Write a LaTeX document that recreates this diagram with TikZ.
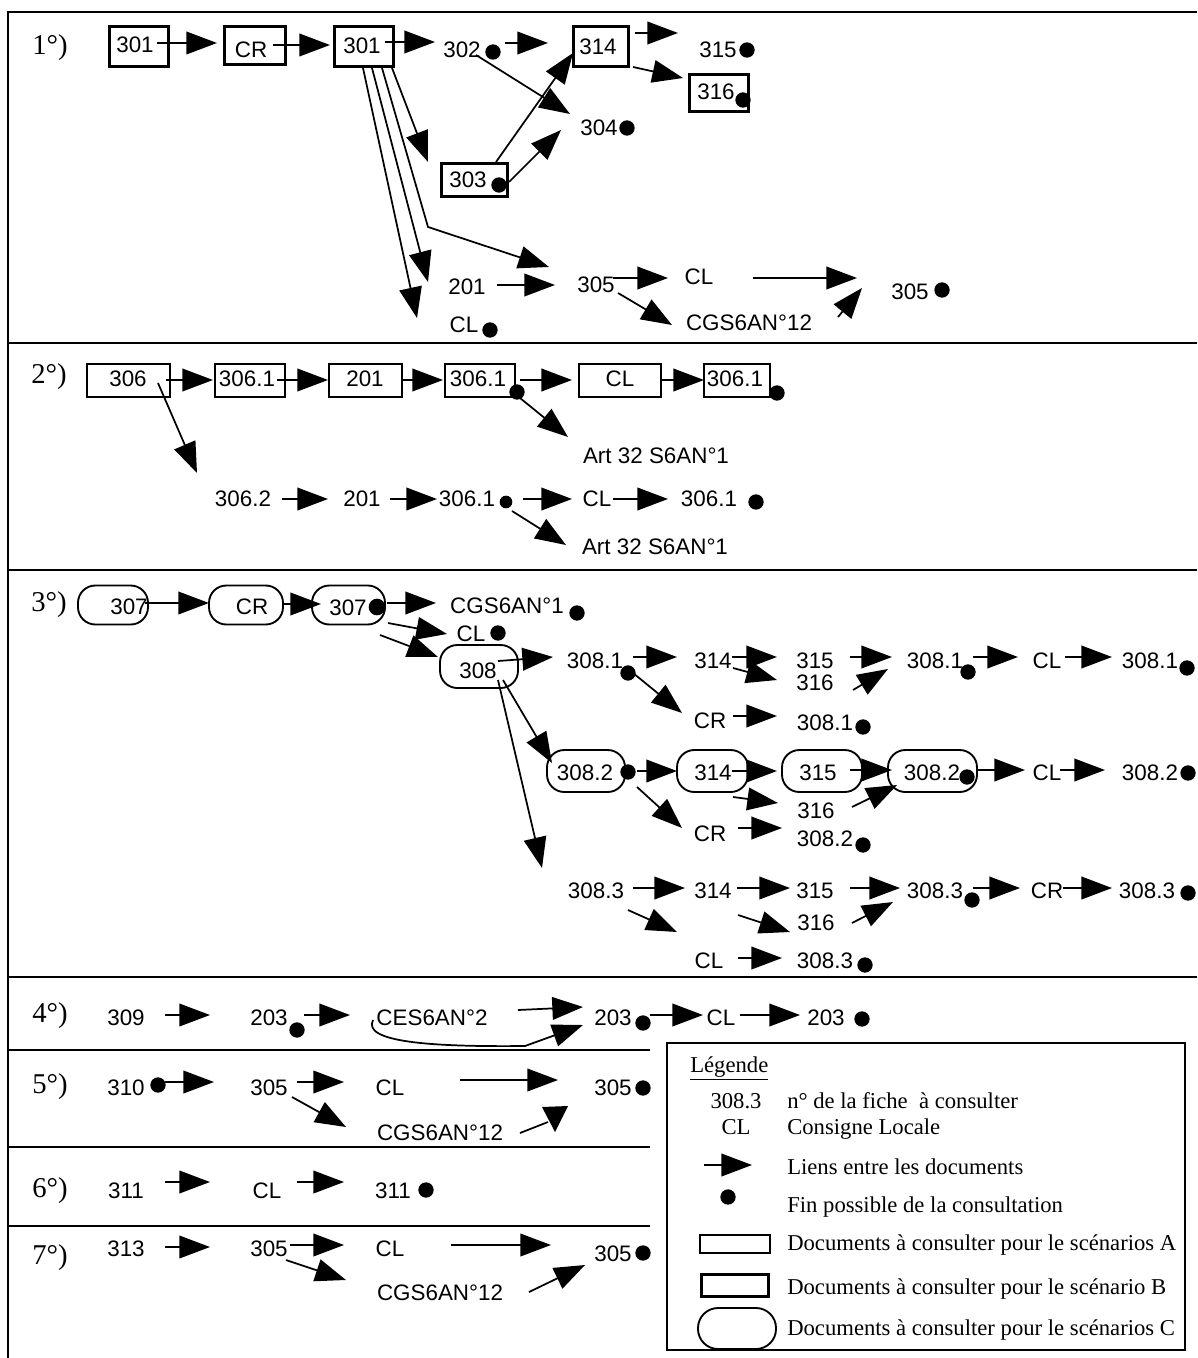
\documentclass[tikz,border=0pt]{standalone}
\usepackage{fontspec}
\setmainfont{Liberation Serif}
\setsansfont{Liberation Sans}
\usetikzlibrary{arrows.meta}
\tikzset{
 lbl/.style={font=\sffamily\fontsize{16.8}{18}\selectfont, inner sep=0pt, text height=12pt, text depth=0pt},
 sec/.style={font=\rmfamily\fontsize{21.5}{24}\selectfont, inner sep=0pt, text height=10.5pt, text depth=0pt},
 leg/.style={font=\rmfamily\fontsize{17}{20}\selectfont, inner sep=0pt, text height=11.3pt, text depth=0pt, anchor=west},
 arr/.style={line width=1.3pt, -{Triangle[length=23pt,width=17pt]}},
 enddot/.style={circle, fill=black, inner sep=0pt, minimum size=11.5pt},
 boxA/.style={draw, line width=1.1pt, inner sep=0pt},
 boxB/.style={draw, line width=2.6pt, inner sep=0pt},
 boxC/.style={draw, line width=1.4pt, rounded corners=13pt, inner sep=0pt},
 sz/.style 2 args={minimum width=#1*0.75pt, minimum height=#2*0.75pt},
 sepline/.style={line width=1.5pt},
}
\begin{document}
\begin{tikzpicture}[x=0.75pt,y=-0.75pt]
\useasboundingbox (0,0) rectangle (1197,1358);
% frame
\draw[sepline] (8,1358) -- (8,12) -- (1197,12);
\draw[sepline] (8,343) -- (1197,343);
\draw[sepline] (8,570) -- (1197,570);
\draw[sepline] (8,977) -- (1197,977);
\draw[sepline] (8,1050) -- (650,1050);
\draw[sepline] (8,1147) -- (650,1147);
\draw[sepline] (8,1226) -- (650,1226);

% ===== Section 1
\node[sec] (s1) at (50,48) {1°)};
\node[boxB, sz={59}{40}] (b1) at (139,46.5) {};
\node[lbl] (t1) at (135,45) {301};
\node[boxB, sz={61}{38}] (b2) at (255,45.5) {};
\node[lbl] (t2) at (251,50) {CR};
\node[boxB, sz={59}{40}] (b3) at (364,46.5) {};
\node[lbl] (t3) at (362,46) {301};
\draw[arr] (157,43) -- (217,43);
\draw[arr] (273,45) -- (330,45);
\draw[arr] (385,42) -- (435,42);
\node[lbl] (t4) at (462,50) {302};
\node[enddot] (d1) at (493,52) {};
\draw[arr] (505,43) -- (548,43);
\node[boxB, sz={55}{40}] (b4) at (601,46.5) {};
\node[lbl] (t5) at (598,47) {314};
\draw[arr] (635,33) -- (678,33);
\node[lbl] (t6) at (718,50) {315};
\node[enddot] (d2) at (747,50) {};
\draw[arr] (633,67) -- (683,78);
\node[boxB, sz={59}{37}] (b5) at (719,93) {};
\node[lbl] (t7) at (716,92) {316};
\node[enddot] (d3) at (743,100) {};
\node[lbl] (t8) at (599,128) {304};
\node[enddot] (d4) at (627,128) {};
\draw[arr] (476,55) -- (570,114);
\node[boxB, sz={66}{33}] (b6) at (474.5,180) {};
\node[lbl] (t9) at (468,180) {303};
\node[enddot] (d5) at (499,185) {};
\draw[arr] (496,162) -- (573,53);
\draw[arr] (509,182) -- (561,130);
\draw[arr] (363,68) -- (417,318);
\draw[arr] (372,68) -- (428,282);
\draw[arr] (382,68) -- (428,227) -- (549,267);
\draw[arr] (392,68) -- (428,162);
\node[lbl] (t10) at (467,287) {201};
\draw[arr] (497,285) -- (555,285);
\node[lbl] (t11) at (464,325) {CL};
\node[enddot] (d6) at (490,330) {};
\node[lbl] (t12) at (596,285) {305};
\draw[arr] (613,278) -- (668,278);
\node[lbl] (t13) at (699,277) {CL};
\draw[arr] (753,278) -- (857,278);
\draw[arr] (618,293) -- (672,325);
\node[lbl] (t14) at (749,323) {CGS6AN°12};
\draw[arr] (838,317) -- (862,288);
\node[lbl] (t15) at (910,292) {305};
\node[enddot] (d7) at (942,290) {};

% ===== Section 2
\node[sec] (s2) at (49,376) {2°)};
\node[boxA, sz={83}{33}] (c1) at (128.5,380.5) {};
\node[lbl] (u1) at (128,379) {306};
\draw[arr] (166,380) -- (213,380);
\node[boxA, sz={70}{33}] (c2) at (250,380.5) {};
\node[lbl] (u2) at (247,379) {306.1};
\draw[arr] (277,380) -- (328,380);
\node[boxA, sz={73}{33}] (c3) at (365.5,380.5) {};
\node[lbl] (u3) at (365,379) {201};
\draw[arr] (402,380) -- (443,380);
\node[boxA, sz={70}{33}] (c4) at (480,380.5) {};
\node[lbl] (u4) at (478,379) {306.1};
\node[enddot] (e1) at (517,392) {};
\draw[arr] (520,380) -- (572,380);
\node[boxA, sz={82}{33}] (c5) at (620,380.5) {};
\node[lbl] (u5) at (620,379) {CL};
\draw[arr] (661,380) -- (704,380);
\node[boxA, sz={66}{33}] (c6) at (737,380.5) {};
\node[lbl] (u6) at (735,379) {306.1};
\node[enddot] (e2) at (777,393) {};
\draw[arr] (158,383) -- (197,473);
\draw[arr] (520,398) -- (568,437);
\node[lbl] (u7) at (656,455) {Art 32 S6AN°1};
\node[lbl] (u8) at (243,498) {306.2};
\draw[arr] (282,499) -- (328,499);
\node[lbl] (u9) at (362,498) {201};
\draw[arr] (390,499) -- (437,499);
\node[lbl] (u10) at (467,498) {306.1};
\node[enddot, minimum size=9.5pt] (e3) at (506,502) {};
\draw[arr] (523,499) -- (572,499);
\node[lbl] (u11) at (597,498) {CL};
\draw[arr] (613,499) -- (668,499);
\node[lbl] (u12) at (709,498) {306.1};
\node[enddot] (e4) at (756,502) {};
\draw[arr] (512,511) -- (566,545);
\node[lbl] (u13) at (655,546) {Art 32 S6AN°1};

% ===== Section 3
\node[sec] (s3) at (49,604) {3°)};
\node[boxC, sz={70}{39}] (r1) at (113,605) {};
\node[lbl] (v1) at (129,606) {307};
\draw[arr] (145,603) -- (209,603);
\node[boxC, sz={74}{39}] (r2) at (246,605) {};
\node[lbl] (v2) at (252,606) {CR};
\draw[arr] (283,604) -- (321,604);
\node[boxC, sz={73}{39}] (r3) at (348.5,605) {};
\node[lbl] (v3) at (348,607) {307};
\node[enddot, minimum size=12.5pt] (f1) at (377,607) {};
\draw[arr] (387,603) -- (436,603);
\node[lbl] (v4) at (507,605) {CGS6AN°1};
\node[enddot] (f2) at (577,613) {};
\node[lbl] (v5) at (471,633) {CL};
\node[enddot] (f3) at (498,633) {};
\draw[arr] (388,623) -- (447,634);
\draw[arr] (380,635) -- (438,657);
\node[boxC, sz={78}{43}] (r4) at (479,666.5) {};
\node[lbl] (v6) at (478,670) {308};
\draw[arr] (498,661) -- (553,657);
\node[lbl] (v7) at (595,660) {308.1};
\node[enddot] (f4) at (628,673) {};
\draw[arr] (633,657) -- (677,657);
\node[lbl] (v8) at (713,660) {314};
\draw[arr] (732,657) -- (777,657);
\draw[arr] (733,668) -- (777,680);
\node[lbl] (v9) at (815,660) {315};
\node[lbl] (v10) at (815,682) {316};
\draw[arr] (850,657) -- (892,657);
\draw[arr] (853,690) -- (888,669);
\node[lbl] (v11) at (935,660) {308.1};
\node[enddot] (f5) at (968,672) {};
\draw[arr] (973,657) -- (1018,657);
\node[lbl] (v12) at (1047,660) {CL};
\draw[arr] (1065,657) -- (1112,657);
\node[lbl] (v13) at (1150,660) {308.1};
\node[enddot] (f6) at (1187,668) {};
\draw[arr] (633,673) -- (682,713);
\node[lbl] (v14) at (710,720) {CR};
\draw[arr] (733,716) -- (777,716);
\node[lbl] (v15) at (825,722) {308.1};
\node[enddot] (f7) at (863,727) {};
\draw[arr] (503,680) -- (552,763);
\draw[arr] (498,680) -- (542,868);
\node[boxC, sz={78}{42}] (r5) at (586,771) {};
\node[lbl] (v16) at (585,772) {308.2};
\node[enddot] (f8) at (628,772) {};
\draw[arr] (637,771) -- (677,771);
\node[boxC, sz={71}{42}] (r6) at (712.5,771) {};
\node[lbl] (v17) at (713,772) {314};
\draw[arr] (732,771) -- (777,771);
\node[boxC, sz={80}{42}] (r7) at (822,771) {};
\node[lbl] (v18) at (818,772) {315};
\draw[arr] (850,770) -- (892,770);
\node[boxC, sz={89}{42}] (r8) at (932.5,771) {};
\node[lbl] (v19) at (932,772) {308.2};
\node[enddot] (f9) at (967,777) {};
\draw[arr] (977,770) -- (1025,770);
\node[lbl] (v20) at (1047,772) {CL};
\draw[arr] (1060,770) -- (1105,770);
\node[lbl] (v21) at (1150,772) {308.2};
\node[enddot] (f10) at (1188,773) {};
\draw[arr] (733,797) -- (778,803);
\node[lbl] (v22) at (816,810) {316};
\draw[arr] (852,807) -- (897,785);
\draw[arr] (637,787) -- (682,828);
\node[lbl] (v23) at (710,833) {CR};
\draw[arr] (738,828) -- (782,828);
\node[lbl] (v24) at (825,838) {308.2};
\node[enddot] (f11) at (863,845) {};
\node[lbl] (v25) at (596,890) {308.3};
\draw[arr] (633,888) -- (685,888);
\node[lbl] (v26) at (713,890) {314};
\draw[arr] (737,888) -- (790,888);
\node[lbl] (v27) at (815,890) {315};
\draw[arr] (850,888) -- (900,888);
\node[lbl] (v28) at (935,890) {308.3};
\node[enddot] (f12) at (972,900) {};
\draw[arr] (973,888) -- (1020,888);
\node[lbl] (v29) at (1047,890) {CR};
\draw[arr] (1063,888) -- (1112,888);
\node[lbl] (v30) at (1147,890) {308.3};
\node[enddot] (f13) at (1188,893) {};
\draw[arr] (628,910) -- (677,932);
\draw[arr] (738,915) -- (790,932);
\node[lbl] (v31) at (816,922) {316};
\draw[arr] (852,923) -- (893,902);
\node[lbl] (v32) at (709,960) {CL};
\draw[arr] (738,958) -- (782,958);
\node[lbl] (v33) at (825,960) {308.3};
\node[enddot] (f14) at (865,965) {};

% ===== Section 4
\node[sec] (s4) at (50,1015) {4°)};
\node[lbl] (w1) at (126,1017) {309};
\draw[arr] (165,1015) -- (210,1015);
\node[lbl] (w2) at (269,1017) {203};
\node[enddot] (g1) at (297,1030) {};
\draw[arr] (304,1015) -- (350,1015);
\node[lbl] (w3) at (432,1017) {CES6AN°2};
\draw[arr] (518,1010) -- (583,1007);
\draw[arr] (373,1020) .. controls (362,1042) and (430,1047) .. (525,1046) -- (583,1025);
\node[lbl] (w4) at (613,1017) {203};
\node[enddot] (g2) at (643,1023) {};
\draw[arr] (650,1015) -- (703,1015);
\node[lbl] (w5) at (721,1017) {CL};
\draw[arr] (740,1015) -- (800,1015);
\node[lbl] (w6) at (826,1017) {203};
\node[enddot] (g3) at (862,1019) {};

% ===== Section 5
\node[sec] (s5) at (50,1086) {5°)};
\node[lbl] (x1) at (126,1087) {310};
\node[enddot] (h1) at (158,1085) {};
\draw[arr] (165,1082) -- (214,1082);
\node[lbl] (x2) at (269,1087) {305};
\draw[arr] (297,1082) -- (344,1082);
\node[lbl] (x3) at (390,1087) {CL};
\draw[arr] (460,1080) -- (558,1080);
\node[lbl] (x4) at (613,1087) {305};
\node[enddot] (h2) at (643,1088) {};
\draw[arr] (292,1097) -- (346,1127);
\node[lbl] (x5) at (440,1132) {CGS6AN°12};
\draw[line width=1.3pt] (520,1133) -- (548,1122);
\fill (542,1107) -- (568,1106) -- (555,1132) -- cycle;

% ===== Section 6
\node[sec] (s6) at (50,1190) {6°)};
\node[lbl] (y1) at (126,1190) {311};
\draw[arr] (165,1182) -- (210,1182);
\node[lbl] (y2) at (267,1190) {CL};
\draw[arr] (297,1182) -- (344,1182);
\node[lbl] (y3) at (393,1190) {311};
\node[enddot] (k1) at (426,1190) {};

% ===== Section 7
\node[sec] (s7) at (50,1257) {7°)};
\node[lbl] (z1) at (126,1248) {313};
\draw[arr] (165,1247) -- (210,1247);
\node[lbl] (z2) at (269,1248) {305};
\draw[arr] (290,1245) -- (344,1245);
\node[lbl] (z3) at (390,1248) {CL};
\draw[arr] (451,1245) -- (551,1245);
\node[lbl] (z4) at (613,1253) {305};
\node[enddot] (m1) at (643,1253) {};
\draw[arr] (286,1260) -- (346,1280);
\node[lbl] (z5) at (440,1292) {CGS6AN°12};
\draw[arr] (529,1292) -- (585,1265);

% ===== Legend
\node[draw, line width=1.1pt, sz={518}{307}, inner sep=0pt] (lg) at (926,1196.5) {};
\node[leg] (l0) at (690,1065) {\underline{Légende}};
\node[leg, anchor=center] (l1) at (736,1101) {308.3};
\node[leg] (l2) at (787,1101) {n° de la fiche\ \ à consulter};
\node[leg, anchor=center] (l3) at (736,1127) {CL};
\node[leg] (l4) at (787,1127) {Consigne Locale};
\draw[arr] (704,1165) -- (752,1165);
\node[leg] (l5) at (787,1167) {Liens entre les documents};
\node[enddot] (l6) at (728,1197) {};
\node[leg] (l7) at (787,1205) {Fin possible de la consultation};
\node[boxA, sz={70}{18}] (la) at (735,1244) {};
\node[leg] (l8) at (787,1243) {Documents à consulter pour le scénarios A};
\node[boxB, sz={67}{22}] (lb) at (735,1285.5) {};
\node[leg] (l9) at (787,1287) {Documents à consulter pour le scénario B};
\node[boxC, rounded corners=15pt, sz={78}{41}] (lc) at (737,1328.5) {};
\node[leg] (l10) at (787,1328) {Documents à consulter pour le scénarios C};
\end{tikzpicture}
\end{document}
